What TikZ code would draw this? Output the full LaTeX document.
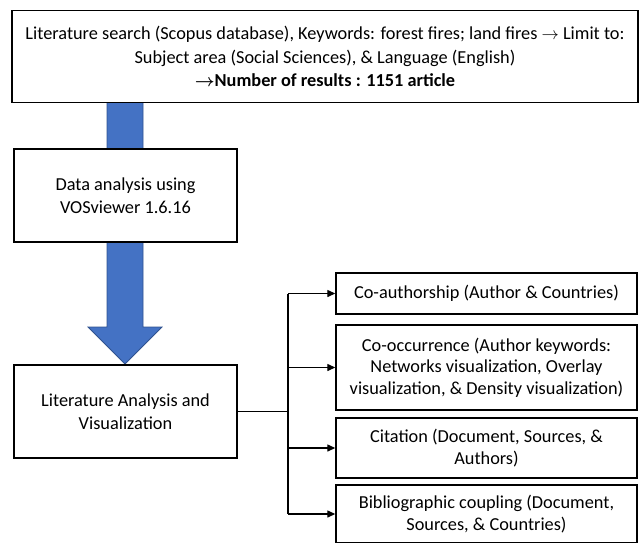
\documentclass[tikz,border=0pt]{standalone}
\usepackage{fontspec}
\setmainfont{Carlito}
\usetikzlibrary{arrows.meta,calc}
\definecolor{arrowblue}{HTML}{4472C4}
\definecolor{arrowedge}{HTML}{2F528F}
\tikzset{
  box/.style={draw=black, line width=1.4pt, fill=white, inner sep=0pt, align=center,
    font=\fontsize{18.3}{21.5}\selectfont},
  leftbox/.style={box, font=\fontsize{18.3}{23.5}\selectfont},
  link/.style={draw=black, line width=1.3pt},
  tip/.style={link, -{Triangle[length=8pt,width=7pt]}}
}
\begin{document}
\begin{tikzpicture}[x=1pt,y=-1pt]
\useasboundingbox (0,0) rectangle (643,542);
% block arrow (behind boxes)
\coordinate (shaftL) at (107,102);
\coordinate (shaftR) at (143,102);
\fill[arrowblue, draw=arrowedge, line width=0.8pt]
  (shaftL) -- (107,327) -- (88,327) -- (125,364) -- (162,327) -- (143,327) -- (shaftR) -- cycle;
\node[box, minimum width=626pt, minimum height=92pt, font=\fontsize{18.3}{23.5}\selectfont] (top) at (325,56.5)
  {Literature search (Scopus database), Keywords: forest fires; land fires $\rightarrow$ Limit to:\\
   Subject area (Social Sciences), \& Language (English)\\
   \textbf{\boldmath$\rightarrow$Number of results : 1151 article}};
\node[leftbox, minimum width=223pt, minimum height=93pt] (data) at (125.5,195.5)
  {Data analysis using\\VOSviewer 1.6.16};
\node[leftbox, minimum width=223pt, minimum height=93pt] (lit) at (125.5,411.5)
  {Literature Analysis and\\Visualization};
\node[box, minimum width=301pt, minimum height=41pt] (c1) at (486.5,293.5)
  {Co-authorship (Author \& Countries)};
\node[box, minimum width=301pt, minimum height=85pt] (c2) at (486.5,367.5)
  {Co-occurrence (Author keywords:\\Networks visualization, Overlay\\visualization, \& Density visualization)};
\node[box, minimum width=301pt, minimum height=60pt] (c3) at (486.5,448)
  {Citation (Document, Sources, \&\\Authors)};
\node[box, minimum width=301pt, minimum height=58pt] (c4) at (486.5,514)
  {Bibliographic coupling (Document,\\Sources, \& Countries)};
% connectors
\coordinate (j) at (288,411.5);
\coordinate (jt) at (288,293.5);
\coordinate (jb) at (288,514);
\draw[link] (lit.east) -- (j);
\draw[link] (jt) -- (jb);
\draw[tip] (jt) -- (c1.west);
\draw[tip] (c2.west -| jt) -- (c2.west);
\draw[tip] (c3.west -| jt) -- (c3.west);
\draw[tip] (jb) -- (c4.west);
\end{tikzpicture}
\end{document}
